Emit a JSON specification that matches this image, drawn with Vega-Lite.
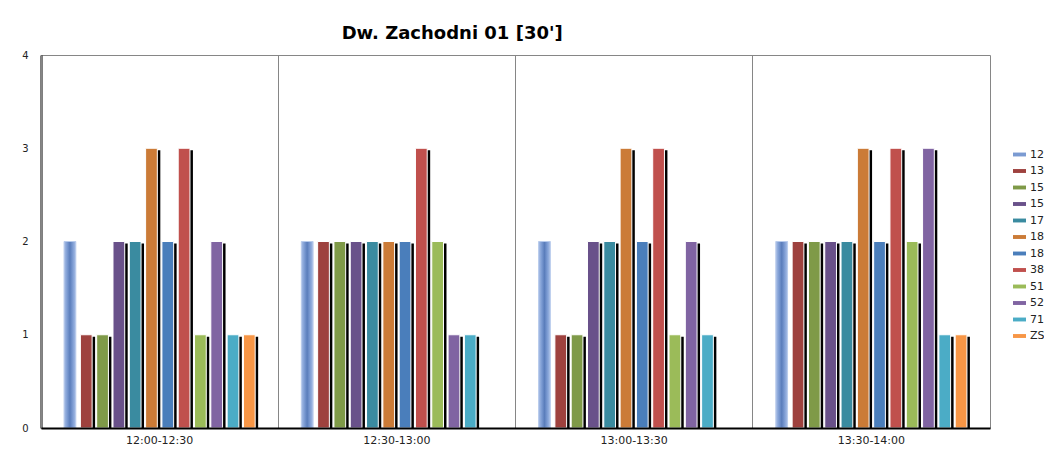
{
  "$schema": "https://vega.github.io/schema/vega-lite/v6.json",
  "width": 949,
  "height": 373,
  "autosize": {"type": "none"},
  "padding": {"left": 41, "top": 55, "right": 54, "bottom": 22},
  "background": "white",
  "title": {
    "text": "Dw. Zachodni 01 [30']",
    "anchor": "start",
    "dx": 320,
    "offset": 7,
    "font": "DejaVu Sans",
    "fontSize": 18,
    "fontWeight": "bold",
    "color": "black"
  },
  "config": {
    "view": {"stroke": "#868686", "strokeWidth": 1},
    "font": "DejaVu Sans"
  },
  "data": {
    "values": [
      {"okres": "12:00-12:30", "linia": "12", "n": 2},
      {"okres": "12:00-12:30", "linia": "13", "n": 1},
      {"okres": "12:00-12:30", "linia": "15", "n": 1},
      {"okres": "12:00-12:30", "linia": "15b", "n": 2},
      {"okres": "12:00-12:30", "linia": "17", "n": 2},
      {"okres": "12:00-12:30", "linia": "18", "n": 3},
      {"okres": "12:00-12:30", "linia": "18b", "n": 2},
      {"okres": "12:00-12:30", "linia": "38", "n": 3},
      {"okres": "12:00-12:30", "linia": "51", "n": 1},
      {"okres": "12:00-12:30", "linia": "52", "n": 2},
      {"okres": "12:00-12:30", "linia": "71", "n": 1},
      {"okres": "12:00-12:30", "linia": "ZS2", "n": 1},
      {"okres": "12:30-13:00", "linia": "12", "n": 2},
      {"okres": "12:30-13:00", "linia": "13", "n": 2},
      {"okres": "12:30-13:00", "linia": "15", "n": 2},
      {"okres": "12:30-13:00", "linia": "15b", "n": 2},
      {"okres": "12:30-13:00", "linia": "17", "n": 2},
      {"okres": "12:30-13:00", "linia": "18", "n": 2},
      {"okres": "12:30-13:00", "linia": "18b", "n": 2},
      {"okres": "12:30-13:00", "linia": "38", "n": 3},
      {"okres": "12:30-13:00", "linia": "51", "n": 2},
      {"okres": "12:30-13:00", "linia": "52", "n": 1},
      {"okres": "12:30-13:00", "linia": "71", "n": 1},
      {"okres": "13:00-13:30", "linia": "12", "n": 2},
      {"okres": "13:00-13:30", "linia": "13", "n": 1},
      {"okres": "13:00-13:30", "linia": "15", "n": 1},
      {"okres": "13:00-13:30", "linia": "15b", "n": 2},
      {"okres": "13:00-13:30", "linia": "17", "n": 2},
      {"okres": "13:00-13:30", "linia": "18", "n": 3},
      {"okres": "13:00-13:30", "linia": "18b", "n": 2},
      {"okres": "13:00-13:30", "linia": "38", "n": 3},
      {"okres": "13:00-13:30", "linia": "51", "n": 1},
      {"okres": "13:00-13:30", "linia": "52", "n": 2},
      {"okres": "13:00-13:30", "linia": "71", "n": 1},
      {"okres": "13:30-14:00", "linia": "12", "n": 2},
      {"okres": "13:30-14:00", "linia": "13", "n": 2},
      {"okres": "13:30-14:00", "linia": "15", "n": 2},
      {"okres": "13:30-14:00", "linia": "15b", "n": 2},
      {"okres": "13:30-14:00", "linia": "17", "n": 2},
      {"okres": "13:30-14:00", "linia": "18", "n": 3},
      {"okres": "13:30-14:00", "linia": "18b", "n": 2},
      {"okres": "13:30-14:00", "linia": "38", "n": 3},
      {"okres": "13:30-14:00", "linia": "51", "n": 2},
      {"okres": "13:30-14:00", "linia": "52", "n": 3},
      {"okres": "13:30-14:00", "linia": "71", "n": 1},
      {"okres": "13:30-14:00", "linia": "ZS2", "n": 1}
    ]
  },
  "encoding": {
    "x": {
      "field": "okres",
      "type": "nominal",
      "sort": ["12:00-12:30", "12:30-13:00", "13:00-13:30", "13:30-14:00"],
      "scale": {"paddingInner": 0, "paddingOuter": 0},
      "axis": {
        "title": null,
        "labelAngle": 0,
        "labelFontSize": 11,
        "labelColor": "#222",
        "labelPadding": 6,
        "ticks": false,
        "domainColor": "black",
        "domainWidth": 2,
        "grid": true,
        "bandPosition": 0,
        "gridColor": "#868686",
        "gridWidth": 1,
        "zindex": 1
      }
    }
  },
  "resolve": {"scale": {"y": "independent", "xOffset": "independent"}},
  "layer": [
    {
      "transform": [{"filter": "datum.linia != '12'"}],
      "mark": {"type": "bar", "color": "black", "clip": true},
      "encoding": {
        "xOffset": {
          "field": "linia",
          "type": "nominal",
          "scale": {
            "domain": ["_a", "12", "13", "15", "15b", "17", "18", "18b", "38", "51", "52", "71", "ZS2", "_b"],
            "paddingInner": 0.28,
            "paddingOuter": 0.415,
            "align": 0.72
          }
        },
        "y": {
          "field": "n",
          "type": "quantitative",
          "scale": {"domain": [0.0214, 4.0214]},
          "axis": null
        }
      }
    },
    {
      "mark": {"type": "bar", "stroke": "white", "strokeWidth": 1},
      "encoding": {
        "xOffset": {
          "field": "linia",
          "type": "nominal",
          "scale": {
            "domain": ["_a", "12", "13", "15", "15b", "17", "18", "18b", "38", "51", "52", "71", "ZS2", "_b"],
            "paddingInner": 0.28,
            "paddingOuter": 0.415
          }
        },
        "y": {
          "field": "n",
          "type": "quantitative",
          "scale": {"domain": [0, 4]},
          "axis": {
            "title": null,
            "values": [0, 1, 2, 3, 4],
            "labelFontSize": 10,
            "labelColor": "#222",
            "labelPadding": 13,
            "ticks": false,
            "domainColor": "black",
            "domainWidth": 2,
            "gridColor": {"condition": {"test": "datum.value == 4", "value": "black"}, "value": "#a6a6a6"},
            "gridWidth": {"condition": {"test": "datum.value == 4", "value": 2}, "value": 1}
          }
        },
        "color": {
          "field": "linia",
          "type": "nominal",
          "scale": {
            "domain": ["12", "13", "15", "15b", "17", "18", "18b", "38", "51", "52", "71", "ZS2"],
            "range": ["#7B9BD2", "#9E413E", "#7F9A48", "#69518A", "#3A8BA0", "#CB7B37", "#4A7EBB", "#C0504D", "#9BBB59", "#8064A2", "#4BACC6", "#F79646"]
          },
          "legend": {
            "title": null,
            "orient": "none",
            "legendX": 972,
            "legendY": 93,
            "padding": 0,
            "symbolType": "M-1,-0.3H1V0.3H-1Z",
            "symbolSize": 169,
            "symbolStrokeWidth": 0,
            "labelFontSize": 11,
            "labelColor": "#222",
            "labelOffset": 4,
            "rowPadding": 4.5,
            "labelExpr": "datum.label == '15b' ? '15' : datum.label == '18b' ? '18' : datum.label"
          }
        }
      }
    },
    {
      "transform": [{"filter": "datum.linia == '12'"}],
      "mark": {
        "type": "bar",
        "stroke": "#B8CBEC",
        "strokeWidth": 1,
        "fill": {
          "gradient": "linear",
          "x1": 0, "y1": 0, "x2": 1, "y2": 0,
          "stops": [
            {"offset": 0, "color": "#A9BFE6"},
            {"offset": 0.25, "color": "#7E9DD4"},
            {"offset": 0.5, "color": "#5A7DBB"},
            {"offset": 0.75, "color": "#7E9DD4"},
            {"offset": 1, "color": "#A9BFE6"}
          ]
        }
      },
      "encoding": {
        "xOffset": {
          "field": "linia",
          "type": "nominal",
          "scale": {
            "domain": ["_a", "12", "13", "15", "15b", "17", "18", "18b", "38", "51", "52", "71", "ZS2", "_b"],
            "paddingInner": 0.28,
            "paddingOuter": 0.415
          }
        },
        "y": {
          "field": "n",
          "type": "quantitative",
          "scale": {"domain": [0, 4]},
          "axis": null
        }
      }
    }
  ]
}
